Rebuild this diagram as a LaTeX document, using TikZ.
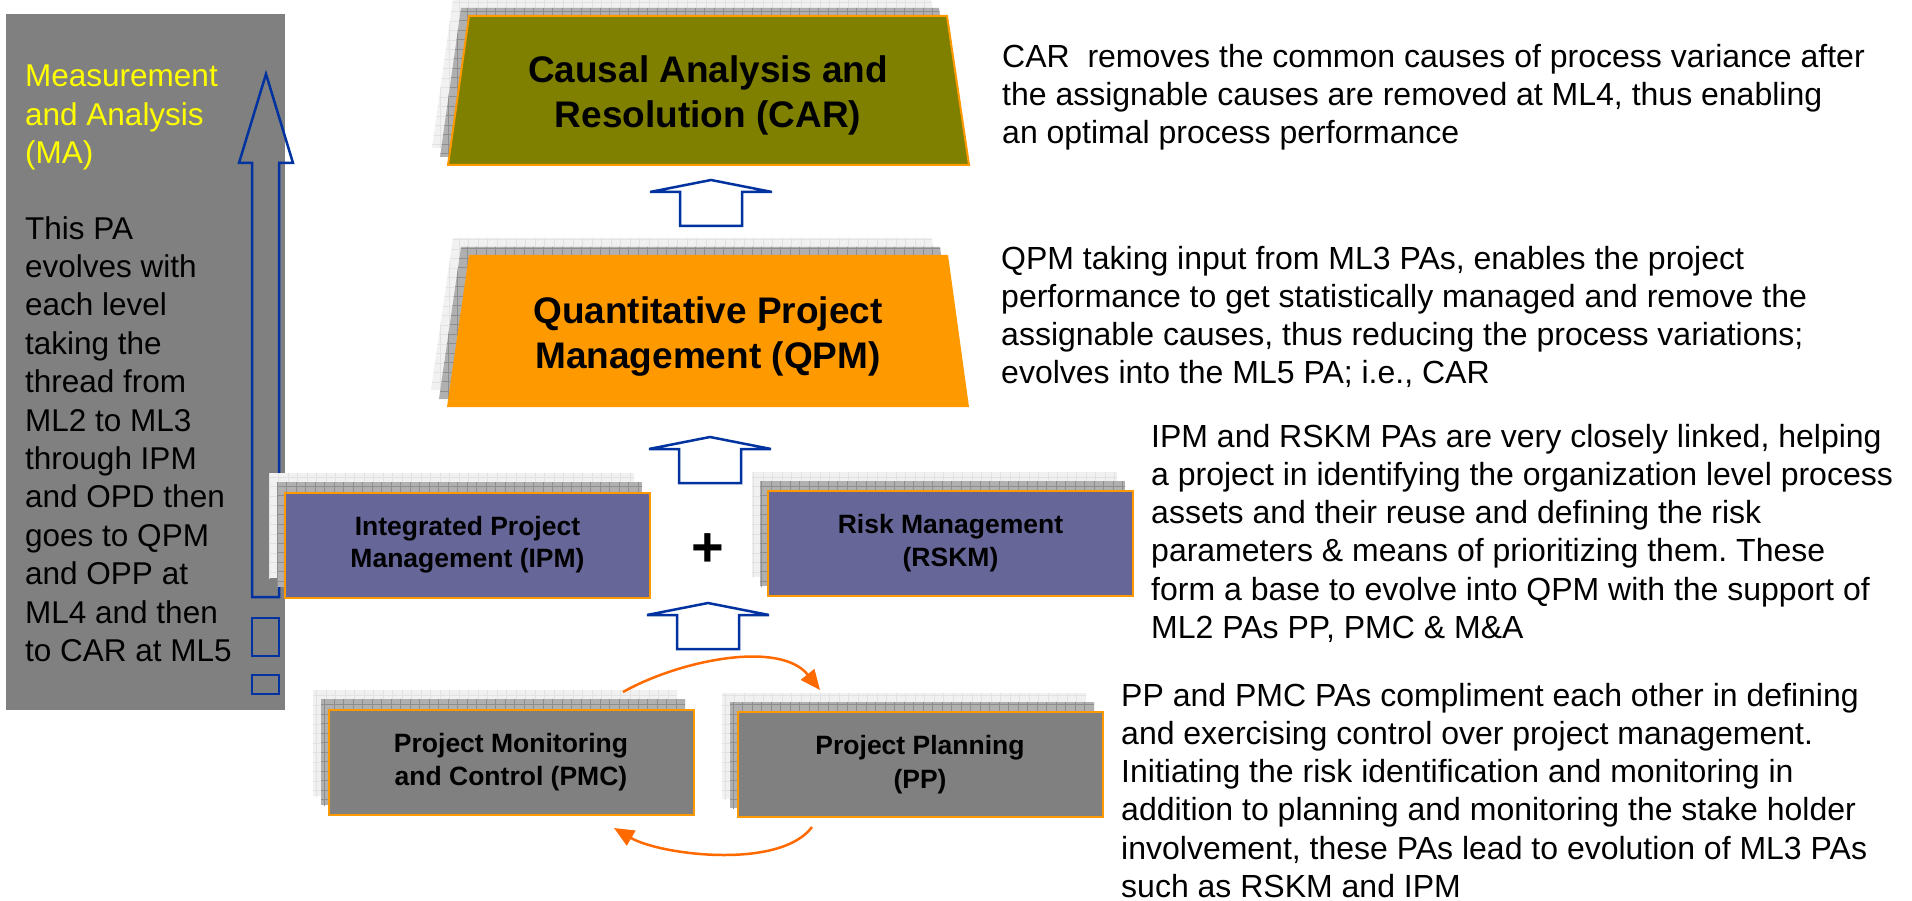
\documentclass[tikz,border=0pt]{standalone}
\usepackage{fontspec}
\setmainfont{Liberation Sans}
\frenchspacing
\usetikzlibrary{arrows.meta}
\definecolor{panelgray}{HTML}{808080}
\definecolor{olivebox}{HTML}{808000}
\definecolor{orangebox}{HTML}{FF9900}
\definecolor{purplebox}{HTML}{666699}
\definecolor{edgeorange}{HTML}{FF9900}
\definecolor{arrowblue}{HTML}{0033A0}
\definecolor{curveorange}{HTML}{FF6A00}
\definecolor{lightlayer}{HTML}{F1F1F1}
\definecolor{lightline}{HTML}{E2E2E2}
\definecolor{darklayer}{HTML}{B0B0B0}
\definecolor{darkline}{HTML}{8E8E8E}
\definecolor{textyellow}{HTML}{FFFF00}

\newcommand\stackshape[1]{%
  \begin{scope}[shift={(-16,-17)}]
    \fill[lightlayer] #1;
    \begin{scope}\clip #1;
      \draw[lightline,line width=0.8pt,step=9.5pt] (200,900) grid (1200,0);
    \end{scope}
  \end{scope}
  \begin{scope}[shift={(-8,-8)}]
    \fill[darklayer] #1;
    \begin{scope}\clip #1;
      \draw[darkline,line width=0.8pt,step=9.5pt] (200,900) grid (1200,0);
    \end{scope}
  \end{scope}}

\newcommand\blockup[2]{%
  \begin{scope}[shift={(#1,#2)}]
    \draw[blockarrow] (0,0) -- (61,12) -- (31,12) -- (31,46) -- (-31,46) -- (-31,12) -- (-61,12) -- cycle;
  \end{scope}}

\tikzset{
  blockarrow/.style={draw=arrowblue, line width=2.5pt, fill=white, line join=miter},
  pabox/.style={draw=edgeorange, line width=2pt, minimum width=365pt, minimum height=105pt,
    inner sep=0pt, align=center, font=\fontsize{26.5pt}{32.5pt}\selectfont\bfseries},
  bluepa/.style={pabox, fill=purplebox},
  graypa/.style={pabox, fill=panelgray},
  bigtitle/.style={inner sep=0pt, align=center, font=\fontsize{37pt}{45pt}\selectfont\bfseries},
  sidetext/.style={inner sep=0pt, align=left, anchor=north west, font=\fontsize{32pt}{38.2pt}\selectfont},
  panelhead/.style={inner sep=0pt, align=left, anchor=north west, text=textyellow, font=\fontsize{31.5pt}{38.3pt}\selectfont},
  paneltext/.style={inner sep=0pt, align=left, anchor=north west, text=black, font=\fontsize{31.5pt}{38.4pt}\selectfont},
  curvearrow/.style={draw=curveorange, line width=2.5pt, -{Triangle[length=20pt,width=17pt]}},
}

\begin{document}
\begin{tikzpicture}[x=1pt,y=-1pt]
\useasboundingbox (0,0) rectangle (1912,901);
\fill[white] (0,0) rectangle (1912,901);

% left panel
\fill[panelgray] (6,14) rectangle (285,710);
\node[panelhead] (mahead) at (25,65) {Measurement\\and Analysis\\(MA)};
\node[paneltext] (matext) at (25,216) {This PA\\evolves with\\each level\\taking the\\thread from\\ML2 to ML3\\through IPM\\and OPD then\\goes to QPM\\and OPP at\\ML4 and then\\to CAR at ML5};
\draw[arrowblue, line width=2.5pt, line join=miter] (266,74) -- (293,163) -- (279,163) -- (279,597) -- (252,597) -- (252,163) -- (239,163) -- cycle;
\draw[arrowblue, line width=2.5pt] (252,618) rectangle (279,656);
\draw[arrowblue, line width=2.5pt] (252,675) rectangle (279,694);

% CAR
\stackshape{(469,16) -- (947,16) -- (969,165) -- (448,165) -- cycle}
\filldraw[fill=olivebox, draw=edgeorange, line width=2pt] (469,16) -- (947,16) -- (969,165) -- (448,165) -- cycle;
\node[bigtitle] (car) at (708,95) {Causal Analysis and\\Resolution (CAR)};

% QPM
\stackshape{(469,255) -- (948,255) -- (969,407) -- (447,407) -- cycle}
\fill[orangebox] (469,255) -- (948,255) -- (969,407) -- (447,407) -- cycle;
\node[bigtitle] (qpm) at (708,337) {Quantitative Project\\Management (QPM)};

% IPM and RSKM
\stackshape{(285,490) rectangle (650,595)}
\node[bluepa, font=\fontsize{26.5pt}{32pt}\selectfont\bfseries] (ipm) at (467.5,545) {Integrated Project\\Management (IPM)};
\stackshape{(768,489) rectangle (1133,594)}
\node[bluepa, font=\fontsize{26.5pt}{33pt}\selectfont\bfseries] (rskm) at (950.5,543.5) {Risk Management\\(RSKM)};
\node[inner sep=0pt, font=\fontsize{56pt}{56pt}\selectfont\bfseries] (plus) at (708,550) {+};

% PMC and PP
\stackshape{(329,707) rectangle (693,813)}
\node[graypa] (pmc) at (511,762) {Project Monitoring\\and Control (PMC)};
\stackshape{(738,710) rectangle (1102,816)}
\node[graypa, font=\fontsize{26.5pt}{34pt}\selectfont\bfseries] (pp) at (920,764.5) {Project Planning\\(PP)};

% block arrows
\blockup{711}{180}
\blockup{710}{437}
\blockup{708}{603}

% orange cycle arrows
\coordinate (pmcout) at (623,692);
\coordinate (ppin) at (820,690);
\coordinate (ppout) at (812,827);
\coordinate (pmcin) at (614,828);
\draw[curvearrow] (pmcout) .. controls (680,660) and (780,640) .. (ppin);
\draw[curvearrow] (ppout) .. controls (780,870) and (660,855) .. (pmcin);

% right-hand texts
\node[sidetext] (cartxt) at (1002,44) {CAR\ \ removes the common causes of process variance after\\the assignable causes are removed at ML4, thus enabling\\an optimal process performance};
\node[sidetext] (qpmtxt) at (1001,246) {QPM taking input from ML3 PAs, enables the project\\performance to get statistically managed and remove the\\assignable causes, thus reducing the process variations;\\evolves into the ML5 PA; i.e., CAR};
\node[sidetext] (ipmtxt) at (1151,424) {IPM and RSKM PAs are very closely linked, helping\\a project in identifying the organization level process\\assets and their reuse and defining the risk\\parameters \& means of prioritizing them. These\\form a base to evolve into QPM with the support of\\ML2 PAs PP, PMC \& M\&A};
\node[sidetext] (pptxt) at (1121,683) {PP and PMC PAs compliment each other in defining\\and exercising control over project management.\\Initiating the risk identification and monitoring in\\addition to planning and monitoring the stake holder\\involvement, these PAs lead to evolution of ML3 PAs\\such as RSKM and IPM};
\end{tikzpicture}
\end{document}
